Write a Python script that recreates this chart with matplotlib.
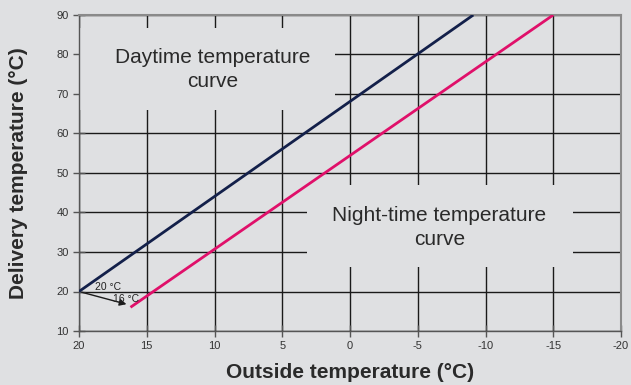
import matplotlib
matplotlib.use("Agg")
import matplotlib.pyplot as plt
from matplotlib.patches import Rectangle

plt.rcParams['font.family'] = ['Liberation Sans', 'DejaVu Sans']

# Heating curves (outside temp -> delivery temp)
day_x = [20, -9.1]
day_y = [20, 90]
night_x = [16.2, -15]
night_y = [16, 90]

x_ticks = [20, 15, 10, 5, 0, -5, -10, -15, -20]
y_ticks = [10, 20, 30, 40, 50, 60, 70, 80, 90]

bg = '#dfe0e2'
fig = plt.figure(figsize=(6.31, 3.85), dpi=100, facecolor=bg)
ax = fig.add_axes([79 / 631, 1 - 331 / 385, 542 / 631, 316 / 385])
ax.set_facecolor(bg)

ax.set_xlim(20, -20)
ax.set_ylim(10, 90)
ax.set_xticks(x_ticks)
ax.set_yticks(y_ticks)
ax.set_xticklabels([str(t) for t in x_ticks])
ax.tick_params(labelsize=8, colors='#333333', length=8, width=1, direction='inout')
ax.tick_params(axis='both', color='#555555')

ax.grid(True, color='#1a1a1a', linewidth=1.0)
ax.set_axisbelow(True)
for side in ['top', 'right']:
    ax.spines[side].set_color('#8a8a8a')
    ax.spines[side].set_linewidth(1.5)
for side in ['left', 'bottom']:
    ax.spines[side].set_color('#555555')
    ax.spines[side].set_linewidth(1.0)

# Boxes that hide the grid behind the labels (data coordinates)
def px_to_data(px, py):
    return 20 - (px - 79) / 542 * 40, 90 - (py - 15) / 316 * 80

x0, y0 = px_to_data(80, 110)
x1, y1 = px_to_data(335, 28)
ax.add_patch(Rectangle((x0, y0), x1 - x0, y1 - y0, facecolor=bg, edgecolor='none', zorder=1.5))
x0, y0 = px_to_data(307, 267)
x1, y1 = px_to_data(573, 185)
ax.add_patch(Rectangle((x0, y0), x1 - x0, y1 - y0, facecolor=bg, edgecolor='none', zorder=1.5))

ax.plot(day_x, day_y, color='#13204a', linewidth=2, zorder=3, solid_capstyle='butt')
ax.plot(night_x, night_y, color='#e0106a', linewidth=2, zorder=3, solid_capstyle='butt')

ax.text(10.1, 76.2, 'Daytime temperature\ncurve', ha='center', va='center',
        fontsize=15, color='#2a2a2a', linespacing=1.3, zorder=4)
ax.text(-6.6, 36.2, 'Night-time temperature\ncurve', ha='center', va='center',
        fontsize=15, color='#2a2a2a', linespacing=1.3, zorder=4)

ax.annotate('', xy=(16.3, 16.6), xytext=(20, 20),
            arrowprops=dict(arrowstyle='-|>', color='#1a1a1a', lw=1, mutation_scale=10), zorder=4)
ax.text(18.8, 20.5, '20 °C', fontsize=7.5, color='#222222', zorder=4)
ax.text(17.5, 17.3, '16 °C', fontsize=7.5, color='#222222', zorder=4)

ax.set_xlabel('Outside temperature (°C)', fontsize=15, fontweight='bold', color='#2a2a2a', labelpad=8)
ax.set_ylabel('Delivery temperature (°C)', fontsize=15, fontweight='bold', color='#2a2a2a', labelpad=20)

fig.savefig('out.png', dpi=100, facecolor=bg)
